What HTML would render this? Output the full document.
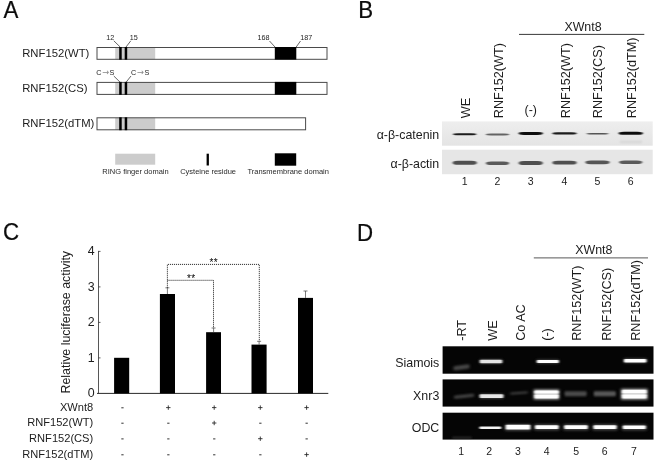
<!DOCTYPE html>
<html><head><meta charset="utf-8"><title>Figure</title>
<style>
html,body{margin:0;padding:0;background:#fff;}
body{width:656px;height:462px;overflow:hidden;}
svg{display:block;font-family:"Liberation Sans",Arial,sans-serif;}
text{fill:#1c1c1c;}
.pl{font-size:22.3px;fill:#0c0c0c;stroke:#0c0c0c;stroke-width:0.2px;}
.l11{font-size:11.3px;}
.l12{font-size:12.4px;}
.l126{font-size:12.65px;}
.s7{font-size:7.2px;fill:#222;}
.s75{font-size:7.5px;fill:#2a2a2a;}
.n10{font-size:10.5px;}
</style></head><body>
<svg width="656" height="462" viewBox="0 0 656 462">
<defs>
<filter id="b1" x="-20%" y="-100%" width="140%" height="300%"><feGaussianBlur stdDeviation="0.9 0.6"/></filter>
<filter id="b2" x="-20%" y="-100%" width="140%" height="300%"><feGaussianBlur stdDeviation="1.2 0.8"/></filter>
<filter id="b3" x="-20%" y="-100%" width="140%" height="300%"><feGaussianBlur stdDeviation="1.5 1.2"/></filter>
<linearGradient id="gb" x1="0" y1="0" x2="0" y2="1"><stop offset="0" stop-color="#eee"/><stop offset="1" stop-color="#e4e4e4"/></linearGradient>
<filter id="b4" x="-20%" y="-100%" width="140%" height="300%"><feGaussianBlur stdDeviation="1.3 0.55"/></filter>
</defs>
<rect width="656" height="462" fill="#fff"/>

<text class="pl" transform="translate(3.5,17.5) scale(1,1.07)">A</text>
<text class="l11" x="22.2" y="56.5">RNF152(WT)</text>
<rect x="115.2" y="47.5" width="40" height="11.8" fill="#ccc"/>
<rect x="97" y="47.5" width="230.0" height="11.8" fill="none" stroke="#4a4a4a" stroke-width="1"/>
<rect x="119.2" y="47.0" width="2.5" height="12.7" fill="#000"/>
<rect x="124.7" y="47.0" width="2.5" height="12.7" fill="#000"/>
<rect x="274.8" y="47.0" width="21.5" height="12.6" fill="#000"/>
<text class="l11" x="22.2" y="91.8">RNF152(CS)</text>
<rect x="115.2" y="82.4" width="40" height="12.0" fill="#ccc"/>
<rect x="97" y="82.4" width="230.0" height="12.0" fill="none" stroke="#4a4a4a" stroke-width="1"/>
<rect x="119.2" y="81.9" width="2.5" height="12.9" fill="#000"/>
<rect x="124.7" y="81.9" width="2.5" height="12.9" fill="#000"/>
<rect x="274.8" y="81.9" width="21.5" height="12.8" fill="#000"/>
<text class="l11" x="22.2" y="126.9">RNF152(dTM)</text>
<rect x="115.2" y="117.8" width="40" height="12.0" fill="#ccc"/>
<rect x="97" y="117.8" width="208.6" height="12.0" fill="none" stroke="#4a4a4a" stroke-width="1"/>
<rect x="119.2" y="117.3" width="2.5" height="12.9" fill="#000"/>
<rect x="124.7" y="117.3" width="2.5" height="12.9" fill="#000"/>
<text class="s7" x="106.3" y="40.3">12</text>
<text class="s7" x="129.8" y="40.3">15</text>
<text class="s7" x="257.5" y="40.3">168</text>
<text class="s7" x="300.2" y="40.3">187</text>
<g stroke="#333" stroke-width="0.75" fill="none">
<path d="M113.8 40.8L120.2 47M130.8 40.8L126 47M269.5 41L275 47M300.5 41L296.2 47"/>
<path d="M113.8 76L120.2 82.3M131 76L126 82.3"/>
</g>
<text class="s7" x="96.3" y="75.4">C</text><text x="101.9" y="75.3" style="font-family:'DejaVu Sans',sans-serif;font-size:8.4px;fill:#888">→</text><text class="s7" x="109.6" y="75.4">S</text>
<text class="s7" x="131.1" y="75.4">C</text><text x="136.7" y="75.3" style="font-family:'DejaVu Sans',sans-serif;font-size:8.4px;fill:#888">→</text><text class="s7" x="144.4" y="75.4">S</text>
<rect x="115.2" y="153.7" width="40" height="11" fill="#ccc"/>
<rect x="206.6" y="153.7" width="2.3" height="11.8" fill="#000"/>
<rect x="274.8" y="153.3" width="21.4" height="12.4" fill="#000"/>
<text class="s75" x="135.5" y="174.2" text-anchor="middle">RING finger domain</text>
<text class="s75" x="208.1" y="174.2" text-anchor="middle">Cysteine residue</text>
<text class="s75" x="288.2" y="174.2" text-anchor="middle">Transmembrane domain</text>
<text class="pl" transform="translate(358.3,17.8) scale(1,1.06)">B</text>
<text class="l12" x="583" y="30.7" text-anchor="middle">XWnt8</text>
<path d="M519 34.4H644.3" stroke="#222" stroke-width="0.9"/>
<text class="l126" transform="translate(470.4,118.2) rotate(-90)">WE</text>
<text class="l126" transform="translate(503.1,118.2) rotate(-90)">RNF152(WT)</text>
<text class="l12" x="530.7" y="114.3" text-anchor="middle">(-)</text>
<text class="l126" transform="translate(569.6,118.2) rotate(-90)">RNF152(WT)</text>
<text class="l126" transform="translate(602.1,118.2) rotate(-90)">RNF152(CS)</text>
<text class="l126" transform="translate(635.6,118.2) rotate(-90)">RNF152(dTM)</text>
<text class="l12" x="439.2" y="138.5" text-anchor="end">α-β-catenin</text>
<text class="l12" x="439.2" y="167.5" text-anchor="end">α-β-actin</text>
<rect x="442" y="121.4" width="210.7" height="24.3" fill="url(#gb)"/>
<rect x="442" y="149.7" width="210.7" height="24.5" fill="#e6e6e6"/>
<rect x="453.1" y="133.15" width="23.2" height="2.1" rx="5" ry="1.05" fill="#1a1a1a" opacity="1" filter="url(#b4)"/>
<rect x="485.9" y="133.60" width="23.2" height="1.8" rx="5" ry="0.90" fill="#555" opacity="0.9" filter="url(#b4)"/>
<rect x="518.6" y="132.10" width="24.2" height="2.8" rx="5" ry="1.40" fill="#0a0a0a" opacity="1" filter="url(#b4)"/>
<rect x="552.4" y="132.25" width="24.2" height="2.3" rx="5" ry="1.15" fill="#1a1a1a" opacity="1" filter="url(#b4)"/>
<rect x="586.4" y="132.90" width="22.2" height="1.6" rx="5" ry="0.80" fill="#444" opacity="0.9" filter="url(#b4)"/>
<rect x="618.6" y="131.65" width="24.2" height="3.1" rx="5" ry="1.55" fill="#0a0a0a" opacity="1" filter="url(#b4)"/>
<rect x="620" y="141" width="22" height="1.8" fill="#d2d2d2" filter="url(#b2)"/>
<rect x="452.6" y="160.80" width="24.2" height="4.0" rx="5" ry="2.00" fill="#505050" filter="url(#b4)"/>
<rect x="485.9" y="161.40" width="23.2" height="3.6" rx="5" ry="1.80" fill="#5a5a5a" filter="url(#b4)"/>
<rect x="518.6" y="160.90" width="24.2" height="4.0" rx="5" ry="2.00" fill="#505050" filter="url(#b4)"/>
<rect x="552.4" y="160.80" width="24.2" height="3.8" rx="5" ry="1.90" fill="#505050" filter="url(#b4)"/>
<rect x="585.4" y="160.40" width="24.2" height="3.8" rx="5" ry="1.90" fill="#545454" filter="url(#b4)"/>
<rect x="619.1" y="160.45" width="23.2" height="3.5" rx="5" ry="1.75" fill="#5a5a5a" filter="url(#b4)"/>
<text class="n10" x="464.75" y="184.9" text-anchor="middle">1</text>
<text class="n10" x="497.5" y="184.9" text-anchor="middle">2</text>
<text class="n10" x="530.75" y="184.9" text-anchor="middle">3</text>
<text class="n10" x="564.5" y="184.9" text-anchor="middle">4</text>
<text class="n10" x="597.5" y="184.9" text-anchor="middle">5</text>
<text class="n10" x="630.75" y="184.9" text-anchor="middle">6</text>
<text class="pl" transform="translate(2.9,240.3) scale(1,1.07)">C</text>
<text class="l12" transform="translate(69.8,393.5) rotate(-90)">Relative luciferase activity</text>
<path d="M98.5 250.89999999999998V393.4" stroke="#444" stroke-width="0.9" fill="none"/><path d="M97 393.4H328.3" stroke="#2a2a2a" stroke-width="1" fill="none"/>
<text class="l12" x="94.6" y="397.3" text-anchor="end">0</text>
<path d="M98.5 357.9h2" stroke="#333" stroke-width="0.8"/>
<text class="l12" x="94.6" y="361.8" text-anchor="end">1</text>
<path d="M98.5 322.4h2" stroke="#333" stroke-width="0.8"/>
<text class="l12" x="94.6" y="326.3" text-anchor="end">2</text>
<path d="M98.5 286.9h2" stroke="#333" stroke-width="0.8"/>
<text class="l12" x="94.6" y="290.8" text-anchor="end">3</text>
<path d="M98.5 251.4h2" stroke="#333" stroke-width="0.8"/>
<text class="l12" x="94.6" y="255.3" text-anchor="end">4</text>
<rect x="114.1" y="357.8" width="15.1" height="35.6" fill="#000"/>
<rect x="159.9" y="294" width="15.1" height="99.4" fill="#000"/>
<path d="M167.4 294V287.8M165.4 287.8h4" stroke="#444" stroke-width="0.7" fill="none"/>
<rect x="206.1" y="332.2" width="14.9" height="61.2" fill="#000"/>
<path d="M213.6 332.2V328M211.6 328h4" stroke="#444" stroke-width="0.7" fill="none"/>
<rect x="251.5" y="344.6" width="15.1" height="48.8" fill="#000"/>
<path d="M259.1 344.6V341.3M257.1 341.3h4" stroke="#444" stroke-width="0.7" fill="none"/>
<rect x="298" y="297.9" width="15.0" height="95.5" fill="#000"/>
<path d="M305.5 297.9V291M303.5 291h4" stroke="#444" stroke-width="0.7" fill="none"/>
<g stroke="#1a1a1a" stroke-width="0.9" fill="none" stroke-dasharray="1.1 0.9">
<path d="M167.4 287.8V264.4H259.3V341"/>
<path d="M167.4 280.3H213.5V328"/>
</g>
<text x="213.7" y="266" text-anchor="middle" style="font-size:10px;letter-spacing:0.3px;fill:#000">**</text>
<text x="191.3" y="281.7" text-anchor="middle" style="font-size:10px;letter-spacing:0.3px;fill:#000">**</text>
<text class="l11" x="93.2" y="410.8" text-anchor="end" style="font-size:11.1px">XWnt8</text>
<rect x="121.3" y="407.3" width="2.3" height="1" fill="#333"/>
<path d="M166.1 407.6h4.4M168.3 405.4v4.4" stroke="#2a2a2a" stroke-width="0.9"/>
<path d="M212.0 407.6h4.4M214.2 405.4v4.4" stroke="#2a2a2a" stroke-width="0.9"/>
<path d="M258.1 407.6h4.4M260.3 405.4v4.4" stroke="#2a2a2a" stroke-width="0.9"/>
<path d="M304.4 407.6h4.4M306.6 405.4v4.4" stroke="#2a2a2a" stroke-width="0.9"/>
<text class="l11" x="93.2" y="426.2" text-anchor="end" style="font-size:11.1px">RNF152(WT)</text>
<rect x="121.3" y="422.7" width="2.3" height="1" fill="#333"/>
<rect x="167.2" y="422.7" width="2.3" height="1" fill="#333"/>
<path d="M212.0 423.0h4.4M214.2 420.8v4.4" stroke="#2a2a2a" stroke-width="0.9"/>
<rect x="259.2" y="422.7" width="2.3" height="1" fill="#333"/>
<rect x="305.5" y="422.7" width="2.3" height="1" fill="#333"/>
<text class="l11" x="93.2" y="441.9" text-anchor="end" style="font-size:11.1px">RNF152(CS)</text>
<rect x="121.3" y="438.4" width="2.3" height="1" fill="#333"/>
<rect x="167.2" y="438.4" width="2.3" height="1" fill="#333"/>
<rect x="213.1" y="438.4" width="2.3" height="1" fill="#333"/>
<path d="M258.1 438.7h4.4M260.3 436.5v4.4" stroke="#2a2a2a" stroke-width="0.9"/>
<rect x="305.5" y="438.4" width="2.3" height="1" fill="#333"/>
<text class="l11" x="93.2" y="457.8" text-anchor="end" style="font-size:11.1px">RNF152(dTM)</text>
<rect x="121.3" y="454.3" width="2.3" height="1" fill="#333"/>
<rect x="167.2" y="454.3" width="2.3" height="1" fill="#333"/>
<rect x="213.1" y="454.3" width="2.3" height="1" fill="#333"/>
<rect x="259.2" y="454.3" width="2.3" height="1" fill="#333"/>
<path d="M304.4 454.6h4.4M306.6 452.4v4.4" stroke="#2a2a2a" stroke-width="0.9"/>
<text class="pl" transform="translate(356.9,240.5) scale(1,1.085)">D</text>
<text class="l12" x="593.8" y="254.1" text-anchor="middle">XWnt8</text>
<path d="M533.8 257.9H648" stroke="#444" stroke-width="0.9"/>
<text class="l126" transform="translate(465.8,340.8) rotate(-90)">-RT</text>
<text class="l126" transform="translate(497,340.8) rotate(-90)">WE</text>
<text class="l126" transform="translate(525,340.8) rotate(-90)">Co AC</text>
<text class="l126" transform="translate(550.5,340.8) rotate(-90)">(-)</text>
<text class="l126" transform="translate(581,340.8) rotate(-90)">RNF152(WT)</text>
<text class="l126" transform="translate(610.7,340.8) rotate(-90)">RNF152(CS)</text>
<text class="l126" transform="translate(640.3,340.8) rotate(-90)">RNF152(dTM)</text>
<text class="l12" x="439.3" y="366.9" text-anchor="end">Siamois</text>
<text class="l12" x="439.3" y="399.6" text-anchor="end">Xnr3</text>
<text class="l12" x="439.3" y="431.5" text-anchor="end">ODC</text>
<rect x="442.6" y="346.3" width="210.9" height="27.4" fill="#050505"/>
<rect x="442.6" y="379.4" width="210.9" height="27.2" fill="#050505"/>
<rect x="442.6" y="412.7" width="210.9" height="26.9" fill="#050505"/>
<g transform="rotate(-8 461.5 367.3)">
<rect x="453.5" y="365.2" width="16.0" height="4.2" rx="1" fill="#555" opacity="0.85" filter="url(#b3)"/>
</g>
<rect x="479.6" y="359.3" width="22.8" height="4.4" rx="1" fill="#555" opacity="0.8" filter="url(#b3)"/>
<rect x="479.8" y="359.7" width="22.4" height="3.6" rx="1" fill="#e4e4e4" opacity="1" filter="url(#b1)"/>
<rect x="536.5" y="359.6" width="22.6" height="4" rx="1" fill="#555" opacity="0.8" filter="url(#b3)"/>
<rect x="536.8" y="360.1" width="22.0" height="3.0" rx="1" fill="#fff" opacity="1" filter="url(#b1)"/>
<rect x="623.7" y="358.6" width="23.0" height="4.4" rx="1" fill="#666" opacity="0.8" filter="url(#b3)"/>
<rect x="624.0" y="359.1" width="22.4" height="3.4" rx="1" fill="#fff" opacity="1" filter="url(#b1)"/>
<g transform="rotate(-6 464 396.3)">
<rect x="454.0" y="394.8" width="20.0" height="3" rx="1" fill="#555" opacity="0.85" filter="url(#b3)"/>
</g>
<rect x="479.5" y="393.7" width="24.0" height="5" rx="1" fill="#555" opacity="0.8" filter="url(#b3)"/>
<rect x="479.7" y="394.3" width="23.6" height="3.8" rx="1" fill="#e8e8e8" opacity="1" filter="url(#b1)"/>
<g transform="rotate(-4 519 393)">
<rect x="510.0" y="392.0" width="18.0" height="2" rx="1" fill="#555" opacity="0.8" filter="url(#b3)"/>
</g>
<rect x="533.5" y="389.0" width="26.0" height="11" rx="1" fill="#888" opacity="0.9" filter="url(#b3)"/>
<rect x="534.7" y="391.3" width="23.6" height="6" rx="1" fill="#ccc" opacity="1" filter="url(#b2)"/>
<rect x="534.5" y="390.5" width="24.0" height="3" rx="1" fill="#fff" opacity="1" filter="url(#b1)"/>
<rect x="534.5" y="394.7" width="24.0" height="3.8" rx="1" fill="#fff" opacity="1" filter="url(#b1)"/>
<rect x="564.6" y="391.3" width="22.0" height="5" rx="1" fill="#505050" opacity="0.95" filter="url(#b2)"/>
<rect x="593.8" y="391.3" width="22.0" height="5" rx="1" fill="#5e5e5e" opacity="0.95" filter="url(#b2)"/>
<rect x="620.8" y="388.6" width="27.0" height="11.5" rx="1" fill="#999" opacity="0.9" filter="url(#b3)"/>
<rect x="622.3" y="391.0" width="24.0" height="6" rx="1" fill="#ccc" opacity="1" filter="url(#b2)"/>
<rect x="622.1" y="389.8" width="24.4" height="3.4" rx="1" fill="#fff" opacity="1" filter="url(#b1)"/>
<rect x="622.1" y="394.4" width="24.4" height="4.2" rx="1" fill="#fff" opacity="1" filter="url(#b1)"/>
<rect x="452.0" y="437.0" width="20.0" height="1.2" rx="1" fill="#555" opacity="0.7" filter="url(#b2)"/>
<rect x="479.3" y="426.5" width="22.0" height="2.4" rx="1" fill="#f4f4f4" opacity="1" filter="url(#b1)"/>
<rect x="505.0" y="424.1" width="26.0" height="7" rx="1" fill="#555" opacity="0.8" filter="url(#b3)"/>
<rect x="505.7" y="424.7" width="24.6" height="4.8" rx="1" fill="#fff" opacity="1" filter="url(#b1)"/>
<rect x="534.3" y="424.1" width="25.0" height="6.5" rx="1" fill="#555" opacity="0.8" filter="url(#b3)"/>
<rect x="535.1" y="425.3" width="23.4" height="3.8" rx="1" fill="#fff" opacity="1" filter="url(#b1)"/>
<rect x="563.5" y="424.1" width="25.0" height="6.5" rx="1" fill="#555" opacity="0.8" filter="url(#b3)"/>
<rect x="564.3" y="425.3" width="23.4" height="3.8" rx="1" fill="#fff" opacity="1" filter="url(#b1)"/>
<rect x="592.7" y="424.1" width="24.6" height="6.5" rx="1" fill="#555" opacity="0.8" filter="url(#b3)"/>
<rect x="593.5" y="425.3" width="23.0" height="3.8" rx="1" fill="#fff" opacity="1" filter="url(#b1)"/>
<rect x="622.0" y="424.4" width="24.6" height="6" rx="1" fill="#555" opacity="0.8" filter="url(#b3)"/>
<rect x="622.8" y="425.4" width="23.0" height="3.6" rx="1" fill="#fff" opacity="1" filter="url(#b1)"/>
<text class="n10" x="461.2" y="454.7" text-anchor="middle">1</text>
<text class="n10" x="489.2" y="454.7" text-anchor="middle">2</text>
<text class="n10" x="517.8" y="454.7" text-anchor="middle">3</text>
<text class="n10" x="546.6" y="454.7" text-anchor="middle">4</text>
<text class="n10" x="576.2" y="454.7" text-anchor="middle">5</text>
<text class="n10" x="604.6" y="454.7" text-anchor="middle">6</text>
<text class="n10" x="634" y="454.7" text-anchor="middle">7</text>
</svg></body></html>
